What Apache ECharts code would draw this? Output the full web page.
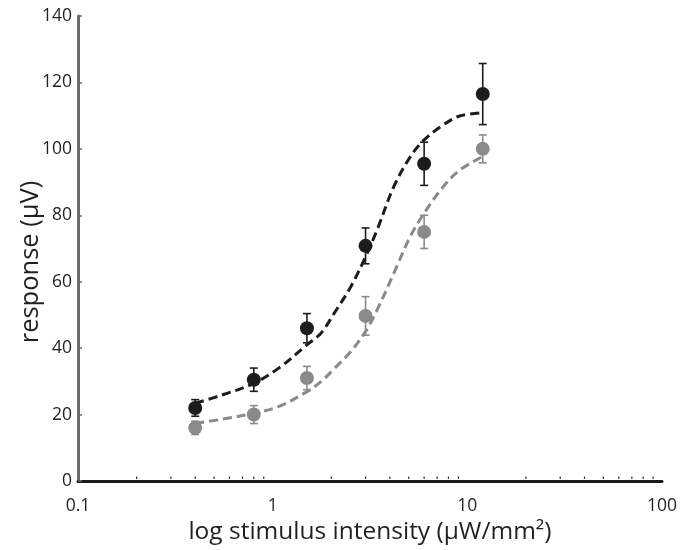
<!DOCTYPE html>
<html>
<head>
<meta charset="utf-8">
<script src="https://cdn.jsdelivr.net/npm/echarts@6/dist/echarts.min.js"></script>
<style>
html,body{margin:0;padding:0;background:#fff;}
#chart{width:680px;height:550px;}
</style>
</head>
<body>
<div id="chart"></div>
<script>
// ---- data ----
const xValues = [0.4, 0.8, 1.5, 3, 6, 12];
const blackMeans = [22, 30.5, 46, 70.8, 95.5, 116.5];
const blackErr = [2.5, 3.5, 4.4, 5.4, 6.5, 9.2];
const grayMeans = [16, 20, 31, 49.7, 75, 100];
const grayErr = [2, 2.7, 3.5, 5.8, 5, 4.2];

// fitted curves
const fitX = [0.4, 0.55, 0.8, 1.07, 1.5, 1.77, 2.07, 2.52, 3, 3.44, 4.19, 5.09, 6, 7.52, 9.14, 12];
const blackFit = [23.4, 25.9, 29.4, 33.9, 41.0, 44.5, 50.5, 58.5, 67.5, 75.6, 88.6, 97.6, 102.7, 107.2, 109.9, 110.9];
const grayFit = [17.4, 18.6, 20.4, 22.4, 26.9, 29.9, 33.8, 39.0, 45.0, 51.5, 62.5, 73.6, 80.6, 88.6, 93.6, 97.7];

// axis ticks
const xTickLabels = ['0.1', '1', '10', '100'];
const xMinorTicks = [0.2, 0.3, 0.4, 0.5, 0.6, 0.7, 0.8, 0.9, 2, 3, 4, 5, 6, 7, 8, 9, 20, 30, 40, 50, 60, 70, 80, 90];
const yTicks = [0, 20, 40, 60, 80, 100, 120, 140];

const FONT = 'Open Sans';
const TXT = '#231f20';
const BLACK = '#1d1b1c';
const GRAY = '#8a8a8a';

function zip(xs, ys) { return xs.map((x, i) => [x, ys[i]]); }
function errData(xs, m, e) { return xs.map((x, i) => [x, m[i] - e[i], m[i] + e[i]]); }

function errRender(color) {
  return function (params, api) {
    const x = api.value(0);
    const lo = api.coord([x, api.value(1)]);
    const hi = api.coord([x, api.value(2)]);
    const cw = 4;
    const style = { stroke: color, lineWidth: 1.6 };
    return {
      type: 'group',
      children: [
        { type: 'line', shape: { x1: lo[0], y1: lo[1], x2: hi[0], y2: hi[1] }, style: style },
        { type: 'line', shape: { x1: lo[0] - cw, y1: lo[1], x2: lo[0] + cw, y2: lo[1] }, style: style },
        { type: 'line', shape: { x1: hi[0] - cw, y1: hi[1], x2: hi[0] + cw, y2: hi[1] }, style: style }
      ]
    };
  };
}

const chart = echarts.init(document.getElementById('chart'), null, { renderer: 'canvas' });

const option = {
  backgroundColor: '#ffffff',
  animation: false,
  textStyle: { fontFamily: FONT },
  grid: { left: 78, right: 12, top: 16, bottom: 69, containLabel: false },
  xAxis: {
    type: 'log',
    logBase: 10,
    min: 0.1,
    max: 100,
    name: 'log stimulus intensity (µW/mm²)',
    nameLocation: 'middle',
    nameGap: 34,
    nameTextStyle: { fontSize: 24.5, color: TXT, fontFamily: FONT },
    axisLine: { show: true, onZero: false, lineStyle: { color: '#1a1a1a', width: 3 } },
    axisTick: { show: false },
    splitLine: { show: false },
    axisLabel: {
      fontSize: 17.5, color: TXT, fontFamily: FONT, margin: 16,
      formatter: function (v) {
        const idx = Math.round(Math.log10(v) + 1);
        return xTickLabels[idx] !== undefined ? xTickLabels[idx] : '';
      }
    }
  },
  yAxis: {
    type: 'value',
    min: yTicks[0],
    max: yTicks[yTicks.length - 1],
    interval: yTicks[1] - yTicks[0],
    axisLine: { show: true, lineStyle: { color: '#6b6b6b', width: 3 } },
    axisTick: { show: true, inside: true, length: 4, lineStyle: { color: '#6b6b6b', width: 1.5 } },
    splitLine: { show: false },
    axisLabel: { fontSize: 17.5, color: TXT, fontFamily: FONT, margin: 6 }
  },
  graphic: [
    {
      type: 'text',
      x: 31, y: 262,
      rotation: Math.PI / 2,
      style: {
        text: 'response (µV)', fontSize: 25.5, fontFamily: FONT, fill: TXT,
        align: 'center', verticalAlign: 'middle'
      }
    }
  ],
  series: [
    {
      type: 'custom',
      name: 'minor ticks',
      data: xMinorTicks.map(v => [v, 0]),
      renderItem: function (params, api) {
        const p = api.coord([api.value(0), 0]);
        return { type: 'line', shape: { x1: p[0], y1: p[1] - 2, x2: p[0], y2: p[1] - 4.5 }, style: { stroke: '#333', lineWidth: 1.2 } };
      },
      silent: true, z: 1
    },
    {
      type: 'line', name: 'gray fit', data: zip(fitX, grayFit), smooth: 0.35,
      showSymbol: false, symbol: 'none',
      lineStyle: { color: GRAY, width: 3, type: [9, 5] }, z: 2
    },
    {
      type: 'line', name: 'black fit', data: zip(fitX, blackFit), smooth: 0.35,
      showSymbol: false, symbol: 'none',
      lineStyle: { color: BLACK, width: 3, type: [9, 5] }, z: 2
    },
    {
      type: 'custom', name: 'gray err', data: errData(xValues, grayMeans, grayErr),
      renderItem: errRender(GRAY), z: 3
    },
    {
      type: 'custom', name: 'black err', data: errData(xValues, blackMeans, blackErr),
      renderItem: errRender(BLACK), z: 3
    },
    {
      type: 'scatter', name: 'gray', data: zip(xValues, grayMeans),
      symbolSize: 14, itemStyle: { color: GRAY, opacity: 1 }, z: 4
    },
    {
      type: 'scatter', name: 'black', data: zip(xValues, blackMeans),
      symbolSize: 14, itemStyle: { color: BLACK, opacity: 1 }, z: 4
    }
  ]
};

chart.setOption(option);
</script>
</body>
</html>
